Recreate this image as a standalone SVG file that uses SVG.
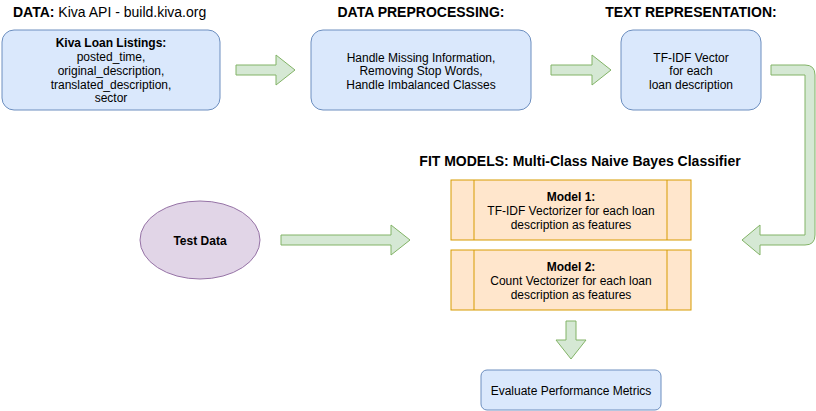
<svg xmlns="http://www.w3.org/2000/svg" width="816" height="411" viewBox="0 0 816 411">
<style>
text{font-family:"Liberation Sans",Arial,Helvetica,sans-serif;fill:#000}
.t{font-size:12px;text-anchor:middle}
.h{font-size:14px;font-weight:bold}
.b{font-weight:bold}
.blue{fill:#dae8fc;stroke:#6c8ebf;stroke-width:1}
.org{fill:#ffe6cc;stroke:#d79b00;stroke-width:1}
.pur{fill:#e1d5e7;stroke:#9673a6;stroke-width:1}
.arr{fill:#d5e8d4;stroke:#82b366;stroke-width:1}
</style>
<rect width="816" height="411" fill="#fff"/>
<g id="titles">
<text x="13" y="17" class="h">DATA: <tspan font-weight="normal">Kiva API - build.kiva.org</tspan></text>
<text x="421" y="17" class="h" text-anchor="middle">DATA PREPROCESSING:</text>
<text x="691" y="17" class="h" text-anchor="middle">TEXT REPRESENTATION:</text>
<text x="580" y="166" class="h" text-anchor="middle">FIT MODELS: Multi-Class Naive Bayes Classifier</text>
</g>
<g id="connectors">
<path class="arr" d="M236,65 L276,65 L276,55 L295,70 L276,85 L276,75 L236,75 Z"/>
<path class="arr" d="M551,65 L592,65 L592,55 L611,70 L592,85 L592,75 L551,75 Z"/>
<path class="arr" d="M771,65 L805,65 Q815,65 815,75 L815,235 Q815,245 805,245 L760,245 L760,255 L742,240 L760,225 L760,235 L805,235 L805,75 L771,75 Z"/>
<path class="arr" d="M281,235 L391,235 L391,225 L410,240 L391,255 L391,245 L281,245 Z"/>
<path class="arr" d="M566,321 L576,321 L576,340 L586,340 L571,359 L556,340 L566,340 Z"/>
</g>
<g id="kiva">
<rect class="blue" x="2" y="30" width="218" height="80" rx="12"/>
<text class="t" x="111" y="47"><tspan class="b">Kiva Loan Listings:</tspan><tspan x="111" y="61">posted_time,</tspan><tspan x="111" y="75">original_description,</tspan><tspan x="111" y="88.5">translated_description,</tspan><tspan x="111" y="102">sector</tspan></text>
</g>
<g id="preprocess">
<rect class="blue" x="311" y="30" width="220" height="80" rx="12"/>
<text class="t" x="421" y="61.5">Handle Missing Information,<tspan x="421" y="75">Removing Stop Words,</tspan><tspan x="421" y="88.5">Handle Imbalanced Classes</tspan></text>
</g>
<g id="tfidf">
<rect class="blue" x="621" y="30" width="140" height="80" rx="12"/>
<text class="t" x="691" y="61.5">TF-IDF Vector<tspan x="691" y="75">for each</tspan><tspan x="691" y="88.5">loan description</tspan></text>
</g>
<g id="testdata">
<ellipse class="pur" cx="200" cy="240" rx="60" ry="39"/>
<text class="t b" x="200" y="244.5">Test Data</text>
</g>
<g id="model1">
<rect class="org" x="451" y="180" width="240" height="60"/>
<line class="org" x1="474" y1="180" x2="474" y2="240"/>
<line class="org" x1="667" y1="180" x2="667" y2="240"/>
<text class="t" x="571" y="201"><tspan class="b">Model 1:</tspan><tspan x="571" y="215">TF-IDF Vectorizer for each loan</tspan><tspan x="571" y="229">description as features</tspan></text>
</g>
<g id="model2">
<rect class="org" x="451" y="250" width="240" height="60"/>
<line class="org" x1="474" y1="250" x2="474" y2="310"/>
<line class="org" x1="667" y1="250" x2="667" y2="310"/>
<text class="t" x="571" y="271"><tspan class="b">Model 2:</tspan><tspan x="571" y="285">Count Vectorizer for each loan</tspan><tspan x="571" y="299">description as features</tspan></text>
</g>
<g id="evaluate">
<rect class="blue" x="481" y="370" width="180" height="40" rx="6"/>
<text class="t" x="571" y="394.5">Evaluate Performance Metrics</text>
</g>
</svg>
